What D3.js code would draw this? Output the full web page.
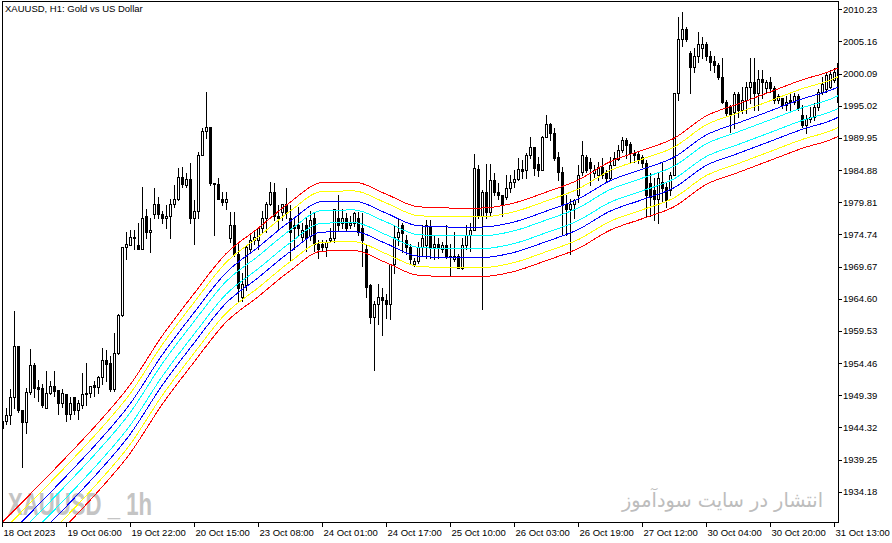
<!DOCTYPE html>
<html><head><meta charset="utf-8">
<script src="https://cdn.jsdelivr.net/npm/d3@7"></script>
<style>html,body{margin:0;padding:0;background:#fff;overflow:hidden}</style>
</head><body><svg id="c" width="892" height="543"></svg>
<script>
const title = "XAUUSD, H1:  Gold vs US Dollar";
const watermark = "XAUUSD _ 1h";
const watermarkFa = "انتشار در سایت سودآموز";
const timeLabels = ["18 Oct 2023","19 Oct 06:00","19 Oct 22:00","20 Oct 15:00","23 Oct 08:00","24 Oct 01:00","24 Oct 17:00","25 Oct 10:00","26 Oct 03:00","26 Oct 19:00","27 Oct 12:00","30 Oct 04:00","30 Oct 20:00","31 Oct 13:00"];
const labelEvery = 16;
const priceTicks = [2010.23,2005.16,2000.09,1995.02,1989.95,1984.88,1979.81,1974.74,1969.67,1964.60,1959.53,1954.46,1949.39,1944.32,1939.25,1934.18];

const open = [
1945.3,1945.3,1946.2,1949.1,1957.2,1947.0,1945.1,1949.9,1954.1,1950.7,
1950.5,1947.3,1949.7,1950.8,1950.2,1948.1,1949.6,1946.4,1949.1,1947.0,
1947.9,1949.6,1949.7,1951.0,1950.7,1952.2,1954.9,1954.5,1950.3,1956.0,
1962.1,1972.7,1973.0,1974.3,1973.0,1972.5,1977.7,1975.1,1977.9,1979.5,
1977.9,1977.4,1977.7,1979.5,1980.3,1983.8,1982.5,1983.4,1977.4,1978.4,
1987.3,1991.1,1991.7,1982.8,1982.7,1980.4,1979.8,1974.1,1976.3,1971.7,
1964.8,1966.7,1972.5,1973.8,1973.8,1975.7,1977.4,1979.5,1981.5,1977.7,
1978.2,1979.5,1977.4,1976.2,1976.3,1974.3,1976.2,1974.5,1977.3,1973.3,
1973.3,1972.8,1973.8,1974.1,1977.4,1976.6,1977.4,1976.2,1976.6,1977.4,
1975.7,1972.5,1966.7,1961.7,1963.8,1964.9,1964.4,1963.8,1970.0,1974.3,
1976.2,1973.8,1972.7,1970.1,1970.6,1972.7,1973.0,1976.0,1972.7,1973.3,
1972.5,1973.0,1971.4,1970.9,1971.4,1969.5,1973.0,1974.6,1975.4,1985.0,
1977.7,1981.4,1978.2,1983.3,1981.5,1980.9,1980.6,1982.0,1983.0,1983.4,
1985.0,1984.9,1987.3,1988.5,1985.8,1984.9,1990.1,1992.2,1990.7,1987.0,
1984.6,1979.5,1978.8,1979.6,1980.9,1984.6,1987.0,1986.1,1984.4,1984.1,
1985.4,1984.4,1983.6,1985.7,1986.6,1988.0,1989.6,1989.0,1987.6,1987.4,
1987.0,1986.0,1982.8,1981.7,1980.4,1983.0,1982.2,1981.7,1984.1,1997.1,
2005.5,2007.1,2003.4,2001.2,2002.8,2004.2,2004.7,2002.8,2002.1,2001.5,
1999.6,1995.6,1994.9,1994.1,1996.8,1994.4,1996.0,1998.0,1998.7,1997.1,
1999.3,1997.9,1998.8,1997.9,1996.0,1996.2,1995.2,1996.0,1995.6,1996.5,
1993.6,1992.0,1993.0,1993.3,1994.9,1997.2,1997.6,1998.0,1999.1,2001.7];

const high = [
1946.5,1947.3,1950.3,1962.7,1957.2,1947.0,1950.5,1956.7,1954.5,1951.8,
1951.1,1953.2,1951.6,1953.2,1950.2,1950.3,1949.6,1949.1,1949.1,1948.7,
1952.9,1954.5,1950.8,1951.6,1952.4,1956.8,1956.5,1955.6,1959.2,1962.2,
1972.8,1975.1,1975.4,1975.4,1976.6,1982.2,1978.8,1977.3,1982.0,1980.6,
1978.5,1979.3,1980.4,1982.5,1985.2,1985.3,1984.4,1986.0,1980.1,1987.7,
1991.5,1997.2,1991.7,1982.8,1983.6,1981.4,1981.4,1978.2,1978.2,1973.3,
1968.6,1973.0,1974.6,1975.4,1975.8,1978.5,1979.8,1983.0,1982.8,1979.3,
1979.6,1982.0,1979.3,1977.3,1979.0,1976.6,1977.4,1978.5,1978.2,1973.8,
1973.8,1973.8,1975.8,1978.8,1980.9,1978.8,1978.1,1977.7,1978.2,1978.2,
1978.1,1973.0,1967.0,1964.3,1967.0,1966.3,1965.4,1970.1,1976.2,1977.4,
1976.6,1974.6,1973.3,1971.1,1973.5,1976.2,1977.0,1977.0,1974.6,1974.1,
1973.5,1976.2,1973.3,1975.1,1971.7,1974.1,1976.2,1976.6,1987.4,1985.7,
1981.7,1985.8,1985.8,1984.4,1982.8,1980.9,1984.1,1984.1,1984.9,1986.8,
1986.5,1987.6,1990.1,1988.5,1987.0,1990.3,1993.6,1992.3,1991.5,1987.7,
1985.3,1980.9,1980.4,1980.4,1985.7,1989.5,1987.3,1986.8,1985.7,1986.1,
1986.8,1984.9,1987.0,1987.7,1988.8,1990.1,1990.0,1989.3,1988.0,1987.9,
1987.3,1986.5,1984.4,1983.6,1984.6,1986.0,1983.0,1984.6,1997.1,2009.0,
2009.8,2007.4,2003.6,2004.2,2006.7,2005.9,2005.0,2003.6,2002.8,2001.8,
2002.6,1996.0,1995.2,1997.2,1997.2,1998.0,1998.8,2002.6,2002.6,2000.7,
2000.7,1999.1,1999.5,1998.2,1996.8,1996.3,1996.5,1996.8,1997.1,1996.8,
1995.2,1993.6,1994.9,1995.5,1997.6,1999.5,2000.4,2000.7,2001.0,2002.0];

const low = [
1943.7,1944.9,1944.9,1947.3,1946.8,1938.1,1943.5,1949.6,1949.1,1948.4,
1947.6,1947.3,1949.6,1949.2,1946.4,1947.6,1945.3,1945.7,1946.5,1945.6,
1947.3,1947.9,1949.1,1949.2,1949.7,1951.1,1951.6,1950.0,1950.0,1955.9,
1961.9,1970.9,1973.0,1972.5,1972.5,1972.5,1974.1,1971.9,1977.4,1977.4,
1976.5,1975.8,1974.1,1979.0,1980.1,1982.2,1982.2,1976.6,1973.3,1977.3,
1987.3,1990.0,1982.5,1974.6,1980.3,1979.3,1978.8,1973.5,1971.4,1964.3,
1964.3,1965.9,1971.9,1973.3,1972.5,1975.1,1975.1,1979.3,1977.0,1975.4,
1977.0,1977.3,1970.6,1972.5,1974.6,1973.5,1972.2,1973.8,1972.2,1971.1,
1972.2,1971.4,1973.5,1973.5,1975.4,1975.8,1975.4,1975.7,1976.0,1974.6,
1969.8,1964.8,1960.8,1953.3,1960.6,1958.9,1961.6,1961.4,1968.7,1973.0,
1971.9,1971.7,1970.3,1969.8,1970.3,1971.4,1971.1,1971.1,1970.9,1971.1,
1971.9,1971.1,1968.2,1970.6,1969.5,1969.3,1972.5,1972.2,1975.4,1977.3,
1963.0,1977.4,1977.7,1980.9,1980.4,1977.7,1980.4,1981.4,1982.2,1983.3,
1983.6,1983.6,1986.8,1984.1,1983.9,1984.9,1990.1,1989.6,1986.5,1983.3,
1974.6,1974.6,1971.7,1977.4,1979.8,1984.1,1984.6,1982.5,1983.8,1983.3,
1983.6,1983.0,1983.3,1985.7,1986.5,1987.7,1986.8,1986.1,1986.1,1986.0,
1985.3,1977.7,1977.7,1977.0,1976.6,1979.8,1979.0,1980.9,1984.1,1996.0,
2004.4,2005.2,1997.1,2000.4,2002.0,2002.6,2002.3,2000.7,2000.4,1999.2,
1995.5,1993.6,1990.9,1991.5,1993.3,1993.9,1993.9,1995.5,1994.4,1994.4,
1996.3,1997.2,1997.2,1995.5,1995.5,1994.7,1994.4,1994.4,1995.3,1994.4,
1991.7,1990.7,1992.5,1992.8,1994.4,1996.8,1997.2,1997.9,1998.8,1995.3];

const close = [
1944.2,1946.2,1949.1,1957.2,1947.0,1945.1,1949.9,1954.1,1950.5,1950.3,
1947.8,1949.7,1950.8,1950.0,1948.1,1949.7,1946.4,1948.1,1947.0,1948.1,
1949.6,1949.7,1950.8,1950.7,1952.2,1954.9,1954.3,1950.3,1956.0,1962.1,
1972.7,1973.2,1974.3,1974.1,1972.5,1977.3,1975.1,1975.4,1979.5,1977.9,
1977.3,1977.7,1979.5,1980.3,1983.8,1982.7,1983.4,1977.4,1978.4,1987.3,
1991.1,1991.7,1982.8,1982.7,1980.3,1979.8,1980.4,1976.3,1971.7,1966.3,
1967.0,1972.7,1973.8,1974.3,1975.8,1977.4,1979.6,1981.5,1977.7,1977.3,
1979.5,1978.1,1975.1,1975.7,1975.7,1975.5,1974.1,1977.0,1973.3,1972.5,
1972.8,1973.5,1974.1,1978.8,1976.2,1977.4,1975.8,1976.6,1978.1,1975.1,
1973.8,1966.5,1961.7,1963.8,1964.9,1964.4,1963.8,1970.0,1974.3,1975.1,
1974.9,1972.7,1970.9,1970.6,1972.7,1974.1,1976.2,1972.7,1973.3,1972.7,
1973.0,1971.4,1971.2,1971.4,1969.5,1973.0,1974.6,1975.4,1985.2,1977.7,
1981.4,1978.2,1983.3,1981.4,1980.9,1979.5,1982.0,1983.0,1983.4,1985.0,
1984.7,1987.3,1988.5,1985.2,1984.9,1990.1,1992.2,1990.7,1986.8,1984.6,
1979.5,1978.8,1979.6,1980.1,1984.1,1987.3,1984.9,1985.2,1984.9,1985.4,
1984.1,1983.6,1985.7,1986.8,1988.0,1989.6,1988.8,1987.6,1987.3,1986.6,
1986.0,1980.9,1980.6,1980.4,1983.6,1982.0,1980.1,1984.1,1997.1,2005.5,
2007.1,2005.5,2001.2,2002.8,2004.7,2004.7,2002.8,2002.0,2001.5,1999.6,
1995.6,1993.9,1993.6,1996.8,1994.4,1996.0,1998.0,1998.7,1997.1,1999.2,
1998.8,1998.8,1997.9,1996.0,1996.5,1995.2,1995.6,1995.6,1996.5,1994.7,
1992.0,1993.0,1993.3,1994.9,1997.2,1998.5,1999.9,2000.1,2000.4,1995.6];

// envelope centre line, read at every 8th bar (bar index -> price)
const centerBars = [0,8,16,24,32,40,48,56,64,72,80,88,96,104,112,120,128,136,144,152,160,168,176,184,192,200,208,209];
const centerVals = [1923.9,1929.0,1934.2,1939.6,1945.6,1953.3,1960.0,1966.3,1970.3,1974.4,1977.5,1977.6,1975.7,1973.7,1973.5,1973.5,1974.3,1976.0,1977.9,1980.8,1982.6,1984.5,1988.0,1989.9,1991.8,1993.7,1995.3,1995.6];
const envOffsets = [5.4, 4.0, 2.4, 1.0];
const envColors = ["#ff0000", "#ffff00", "#0000ff", "#00ffff"];

const svg = d3.select("#c");
const nBars = open.length;
const x = d3.scaleLinear().domain([0, 209]).range([2, 838]);
const y = d3.scaleLinear().domain([1929.40, 2011.54]).range([522, 1]);
const font = "'Liberation Sans', Arial, sans-serif";

svg.append("rect").attr("width", 892).attr("height", 543).attr("fill", "#fff");

const defs = svg.append("defs");
defs.append("clipPath").attr("id", "plot").append("rect")
  .attr("x", 3).attr("y", 2).attr("width", 835).attr("height", 520);

// watermarks
svg.append("text").attr("x", 8).attr("y", 515)
  .attr("font-family", font).attr("font-weight", "bold").attr("font-size", 31)
  .attr("fill", "#c4c4c4").attr("textLength", 144).attr("lengthAdjust", "spacingAndGlyphs")
  .text(watermark);
svg.append("text").attr("x", 823).attr("y", 507)
  .attr("font-family", "'DejaVu Sans', 'Noto Sans', sans-serif").attr("font-size", 20)
  .attr("fill", "#bdbdbd").attr("text-anchor", "end")
  .attr("textLength", 201).attr("lengthAdjust", "spacingAndGlyphs")
  .text(watermarkFa);

const plot = svg.append("g").attr("clip-path", "url(#plot)").attr("shape-rendering", "crispEdges");

const bars = d3.range(nBars).map(i => ({i, o: open[i], h: high[i], l: low[i], c: close[i]}));
const cg = plot.append("g");
bars.forEach(d => {
  const px = Math.round(x(d.i));
  const yh = Math.round(y(Math.max(d.h, d.o, d.c)));
  const yl = Math.round(y(Math.min(d.l, d.o, d.c)));
  cg.append("rect").attr("x", px).attr("y", yh).attr("width", 1).attr("height", yl - yh + 1).attr("fill", "#000");
  const yt = Math.round(y(Math.max(d.o, d.c)));
  const yb = Math.round(y(Math.min(d.o, d.c)));
  if (d.c > d.o) {
    cg.append("rect").attr("x", px - 1).attr("y", yt).attr("width", 3).attr("height", yb - yt + 1).attr("fill", "#000");
    if (yb - yt >= 2) cg.append("rect").attr("x", px).attr("y", yt + 1).attr("width", 1).attr("height", yb - yt - 1).attr("fill", "#fff");
  } else {
    cg.append("rect").attr("x", px - 1).attr("y", yt).attr("width", 3).attr("height", yb - yt + 1).attr("fill", "#000");
  }
});

// envelope lines
const centre = centerBars.map((b, k) => ({i: b, v: centerVals[k]}));
envOffsets.forEach((off, k) => {
  [1, -1].forEach(s => {
    const line = d3.line().x(d => x(d.i)).y(d => y(d.v + s * off)).curve(d3.curveMonotoneX);
    plot.append("path").attr("d", line(centre)).attr("fill", "none")
      .attr("stroke", envColors[k]).attr("stroke-width", 1);
  });
});

// frame
svg.append("rect").attr("x", 2.5).attr("y", 1.5).attr("width", 836).attr("height", 521)
  .attr("fill", "none").attr("stroke", "#000").attr("stroke-width", 1).attr("shape-rendering", "crispEdges");

// right price axis
const ya = svg.append("g").attr("transform", "translate(838,0)")
  .call(d3.axisRight(y).tickValues(priceTicks).tickSize(4).tickPadding(1).tickFormat(d => d.toFixed(2)));
ya.select(".domain").remove();
ya.selectAll("text").attr("font-family", font).attr("font-size", 9.5).attr("fill", "#000");
ya.selectAll("line").attr("stroke", "#000").attr("shape-rendering", "crispEdges");

// bottom time axis
const tickBars = d3.range(0, nBars, labelEvery);
const xa = svg.append("g").attr("transform", "translate(0,522)")
  .call(d3.axisBottom(x).tickValues(tickBars).tickSize(5).tickPadding(2).tickFormat((d, k) => timeLabels[k]));
xa.select(".domain").remove();
xa.selectAll("text").attr("font-family", font).attr("font-size", 9.5).attr("fill", "#000")
  .attr("text-anchor", "start").attr("x", 1);
xa.selectAll("line").attr("stroke", "#000").attr("shape-rendering", "crispEdges");

// title
svg.append("text").attr("x", 5).attr("y", 12).attr("font-family", font).attr("font-size", 9.5)
  .attr("fill", "#000").text(title);
</script></body></html>
